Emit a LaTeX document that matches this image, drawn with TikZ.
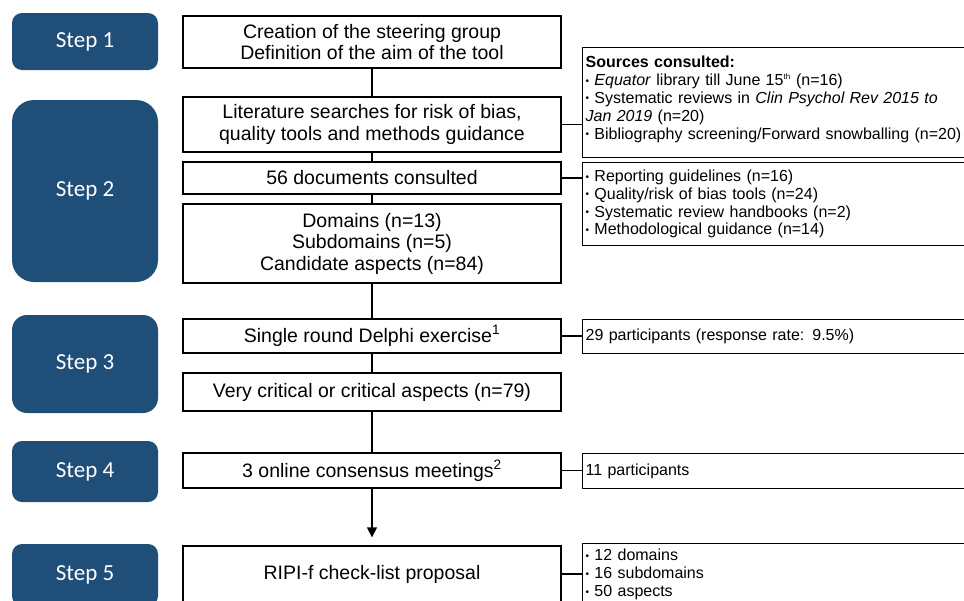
\documentclass[tikz,border=0pt]{standalone}
\usepackage{fontspec}
\setmainfont{Liberation Sans}
\newfontfamily\stepfont{Carlito}
\usetikzlibrary{arrows.meta}

\definecolor{stepblue}{RGB}{31,78,121}
\newcommand{\bul}{\raisebox{1.5pt}{\fontsize{10}{10}\selectfont\textbullet}\ }

\begin{document}
\begin{tikzpicture}[x=1pt, y=-1pt,
  stepstyle/.style={fill=stepblue, text=white, rounded corners=10pt, minimum width=146pt, inner sep=0pt, font=\stepfont\fontsize{23}{26}\selectfont},
  textstyle/.style={draw, line width=1.3pt, fill=white, align=center, minimum width=378pt, inner sep=0pt, font=\fontsize{19.5}{21.5}\selectfont},
  notestyle/.style={draw, line width=1.3pt, anchor=north west, align=left, text width=420pt, inner xsep=3pt, inner ysep=0pt, font=\fontsize{16}{17.8}\selectfont},
  link/.style={line width=1.3pt}]
  \clip (0,0) rectangle (964,600);

  % steps
  \node [stepstyle, minimum height=57pt] (Step1) at (85,41.5) {Step 1};
  \node [stepstyle, minimum height=182pt, rounded corners=22pt] (Step2) at (85,191) {Step 2};
  \node [stepstyle, minimum height=98pt, rounded corners=15pt] (Step3) at (85,364) {Step 3};
  \node [stepstyle, minimum height=61pt] (Step4) at (85,471.5) {Step 4};
  \node [stepstyle, minimum height=62pt] (Step5) at (85,575) {Step 5};

  % main column
  \node [textstyle, minimum height=52pt] (Steering) at (372,42) {Creation of the steering group\\Definition of the aim of the tool};
  \node [textstyle, minimum height=55pt] (Search) at (372,124.5) {Literature searches for risk of bias,\\quality tools and methods guidance};
  \node [textstyle, minimum height=32pt] (Docs) at (372,178) {56 documents consulted};
  \node [textstyle, minimum height=79pt] (Domains) at (372,243.5) {Domains (n=13)\\Subdomains (n=5)\\Candidate aspects (n=84)};
  \node [textstyle, minimum height=34pt] (Delphi) at (372,336) {Single round Delphi exercise\textsuperscript{1}};
  \node [textstyle, minimum height=38pt] (Critical) at (372,392) {Very critical or critical aspects (n=79)};
  \node [textstyle, minimum height=35pt] (Meetings) at (372,470.5) {3 online consensus meetings\textsuperscript{2}};
  \node [textstyle, minimum height=56pt] (Proposal) at (372,574) {RIPI-f check-list proposal};

  \draw [link] (Steering.south) -- (Search.north);
  \draw [link] (Search.south) -- (Docs.north);
  \draw [link] (Docs.south) -- (Domains.north);
  \draw [link] (Domains.south) -- (Delphi.north);
  \draw [link] (Delphi.south) -- (Critical.north);
  \draw [link] (Critical.south) -- (Meetings.north);
  \draw [link, -{Triangle[width=10pt,length=10pt]}, shorten >=8pt] (Meetings.south) -- (Proposal.north);

  % notes on the right
  \node [notestyle, minimum height=110pt] (Sources) at (582,47) {{\bfseries Sources consulted:}\\
    \bul\textit{Equator} library till June 15\textsuperscript{\fontsize{8}{8}\selectfont th} (n=16)\\
    \bul Systematic reviews in \textit{Clin Psychol Rev 2015 to}\\
    \textit{Jan 2019} (n=20)\\
    \bul Bibliography screening/Forward snowballing (n=20)\rule[-10pt]{0pt}{10pt}};
  \node [notestyle, minimum height=83pt] (DocTypes) at (582,162) {\bul Reporting guidelines (n=16)\\
    \bul Quality/risk of bias tools (n=24)\\
    \bul Systematic review handbooks (n=2)\\
    \bul Methodological guidance (n=14)};
  \node [notestyle, minimum height=34pt] (Panel) at (582,319) {29 participants (response rate: 9.5\%)};
  \node [notestyle, minimum height=35pt] (Consensus) at (582,453) {11 participants};
  \node [notestyle, minimum height=62pt] (Items) at (582,543) {\bul 12 domains\\
    \bul 16 subdomains\\
    \bul 50 aspects};

  \draw [link] (Search.east) -- (Sources.west |- Search.east);
  \draw [link] (Docs.east) -- (DocTypes.west |- Docs.east);
  \draw [link] (Delphi.east) -- (Panel.west |- Delphi.east);
  \draw [link] (Meetings.east) -- (Consensus.west |- Meetings.east);
  \draw [link] (Proposal.east) -- (Items.west |- Proposal.east);
\end{tikzpicture}
\end{document}
